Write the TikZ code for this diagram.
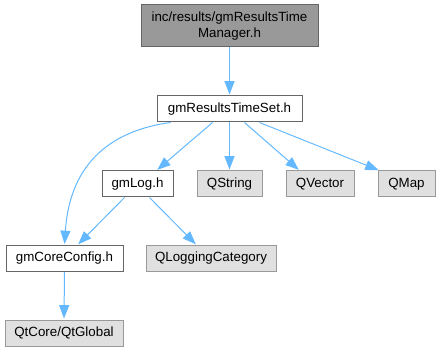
\documentclass[tikz,border=0pt]{standalone}
\usepackage{fontspec}
\setmainfont{Liberation Sans}
\usetikzlibrary{arrows.meta}
\definecolor{edgeblue}{HTML}{63B8FF}
\definecolor{topfill}{HTML}{999999}
\definecolor{darkborder}{HTML}{666666}
\definecolor{extfill}{HTML}{E0E0E0}
\definecolor{extborder}{HTML}{999999}
\begin{document}
\begin{tikzpicture}[x=0.75pt,y=-0.75pt,
  base/.style={rectangle,inner sep=0pt,line width=0.75pt,font=\fontsize{10pt}{12pt}\selectfont,text=black,minimum height=19.5pt},
  mainbox/.style={base,fill=topfill,draw=darkborder,align=center},
  filebox/.style={base,fill=white,draw=darkborder},
  extbox/.style={base,fill=extfill,draw=extborder},
  dep/.style={draw=edgeblue,line width=0.75pt,-{Triangle[length=10pt,width=7.5pt]},shorten >=0.75pt}]
\useasboundingbox (0,0) rectangle (441,352);
\node[mainbox,minimum width=132.75pt,minimum height=31.5pt] (top) at (229.5,26) {inc/results/gmResultsTime\\Manager.h};
\node[filebox,minimum width=108.75pt] (ts) at (229.5,109) {gmResultsTimeSet.h};
\node[filebox,minimum width=53.25pt] (log) at (137.5,184) {gmLog.h};
\node[extbox,minimum width=48.75pt] (qs) at (229.5,184) {QString};
\node[extbox,minimum width=51pt] (qv) at (320,184) {QVector};
\node[extbox,minimum width=42.75pt] (qm) at (406.5,184) {QMap};
\node[filebox,minimum width=87.75pt] (cc) at (64.5,258.5) {gmCoreConfig.h};
\node[extbox,minimum width=97.5pt] (ql) at (211,258.5) {QLoggingCategory};
\node[extbox,minimum width=88.5pt] (qt) at (64,333) {QtCore/QtGlobal};
\draw[dep] (top.south) -- (ts.north);
\draw[dep] ([xshift=10.5pt]ts.south west) .. controls (115,130) and (70,160) .. (cc.north);
\draw[dep] ([xshift=42pt]ts.south west) -- ([xshift=41.25pt]log.north west);
\draw[dep] (ts.south) -- (qs.north);
\draw[dep] ([xshift=66pt]ts.south west) -- ([xshift=10.5pt]qv.north west);
\draw[dep] ([xshift=77.25pt]ts.south west) -- ([xshift=1.5pt]qm.north west);
\draw[dep] ([xshift=17.25pt]log.south west) -- ([xshift=54pt]cc.north west);
\draw[dep] ([xshift=36pt]log.south west) -- ([xshift=38.25pt]ql.north west);
\draw[dep] (cc.south) -- (qt.north);
\end{tikzpicture}
\end{document}
